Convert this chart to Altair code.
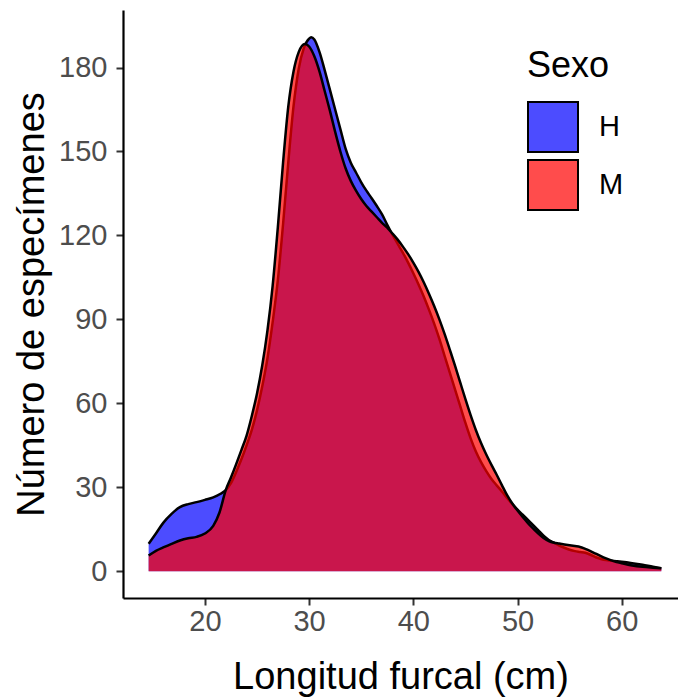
import altair as alt
import pandas as pd

# Longitud furcal (cm) and counts, Hembras (H)
h_x = [14.6, 15.3, 16.0, 16.8, 17.6, 18.4, 19.2, 20.0, 20.8, 21.5, 22.0, 22.5, 23.0, 23.5,
       24.0, 24.5, 25.0, 25.5, 26.0, 26.5, 27.0, 27.5, 28.0, 28.5, 29.0, 29.5, 30.0, 30.2,
       30.5, 31.0, 31.5, 32.0, 32.5, 33.0, 33.5, 34.0, 34.5, 35.0, 35.5, 36.0, 36.5, 37.0,
       37.5, 38.0, 38.5, 39.0, 39.5, 40.0, 40.5, 41.0, 41.5, 42.0, 42.5, 43.0, 43.5, 44.0,
       44.5, 45.0, 45.5, 46.0, 46.5, 47.0, 47.5, 48.0, 48.5, 49.0, 49.5, 50.0, 50.5, 51.0,
       51.5, 52.0, 52.5, 53.0, 53.5, 54.0, 54.5, 55.0, 55.5, 56.0, 56.5, 57.0, 57.5, 58.0,
       58.5, 59.0, 59.5, 60.0, 61.0, 62.0, 63.0, 63.8]
h_y = [9.8, 13.5, 17.3, 20.5, 22.9, 24.0, 24.7, 25.5, 26.4, 27.7, 29.0, 31.5, 35.5, 40.0,
       45.0, 50.5, 57.5, 66.0, 76.0, 89.0, 104.0, 124.0, 146.0, 166.0, 179.5, 187.0, 190.3, 190.8,
       190.0, 185.5, 179.0, 172.0, 165.0, 158.0, 151.0, 146.0, 142.5, 139.0, 136.0, 133.3, 130.5, 127.5,
       123.8, 120.3, 117.0, 113.8, 110.3, 106.5, 102.5, 98.2, 93.5, 88.5, 83.0, 77.0, 71.0, 65.0,
       59.0, 53.0, 47.5, 42.8, 39.0, 35.8, 33.0, 30.7, 28.5, 26.2, 24.0, 22.0, 20.2, 18.4,
       16.5, 14.6, 12.7, 11.2, 10.2, 9.2, 8.4, 7.7, 7.2, 6.9, 6.6, 5.9, 5.0, 4.4,
       4.0, 3.8, 3.6, 3.4, 2.9, 2.3, 1.6, 1.1]

# Machos (M)
m_x = [14.6, 15.3, 16.0, 16.8, 17.6, 18.4, 19.2, 20.0, 20.8, 21.4, 22.0, 22.5, 23.0, 23.5,
       24.0, 24.5, 25.0, 25.5, 26.0, 26.5, 27.0, 27.5, 28.0, 28.5, 29.0, 29.6, 30.0, 30.5,
       31.0, 31.5, 32.0, 32.5, 33.0, 33.5, 34.0, 34.5, 35.0, 35.5, 36.0, 36.5, 37.0, 37.5,
       37.8, 38.5, 39.0, 39.5, 40.0, 40.5, 41.0, 41.5, 42.0, 42.5, 43.0, 43.5, 44.0, 44.5,
       45.0, 45.5, 46.0, 46.5, 47.0, 47.5, 48.0, 48.5, 49.0, 49.5, 50.0, 50.5, 51.0, 51.5,
       52.0, 52.5, 53.0, 53.5, 54.0, 54.5, 55.0, 55.5, 56.0, 56.5, 57.0, 57.5, 58.0, 58.5,
       59.0, 59.5, 60.0, 61.0, 62.0, 63.0, 63.8]
m_y = [5.6, 7.3, 8.5, 9.8, 11.0, 11.8, 12.3, 13.5, 16.2, 21.0, 29.0, 33.5, 38.3, 43.3,
       48.5, 55.5, 63.5, 73.5, 86.0, 102.0, 123.0, 146.0, 166.0, 178.5, 185.5, 188.4, 187.5, 184.0,
       178.5, 171.5, 164.5, 157.0, 150.0, 144.0, 139.5, 136.0, 133.0, 130.5, 128.5, 126.5, 124.5, 122.8,
       121.5, 118.5, 116.0, 113.3, 110.3, 107.0, 103.3, 99.2, 94.8, 90.0, 84.8, 79.2, 73.5, 67.5,
       61.5, 55.8, 50.5, 45.8, 41.7, 38.0, 34.5, 30.8, 27.2, 24.2, 21.7, 19.4, 17.2, 15.3,
       13.5, 11.9, 10.8, 10.2, 9.9, 9.6, 9.3, 9.0, 8.7, 8.0, 7.2, 6.3, 5.4, 4.6,
       3.9, 3.3, 2.9, 2.1, 1.6, 1.3, 1.1]

sexes = ["H", "M"]
fill_colors = ["rgba(0,0,255,0.7)", "rgba(255,0,0,0.7)"]
x_ticks = [20, 30, 40, 50, 60]
y_ticks = [0, 30, 60, 90, 120, 150, 180]

df = pd.concat([
    pd.DataFrame({"lf": h_x, "n": h_y, "Sexo": "H"}),
    pd.DataFrame({"lf": m_x, "n": m_y, "Sexo": "M"}),
], ignore_index=True)

FONT = "Liberation Sans"

x_enc = alt.X("lf:Q", scale=alt.Scale(domain=[12.14, 65.4], nice=False, zero=False),
              axis=alt.Axis(values=x_ticks, title="Longitud furcal (cm)", titlePadding=22))
y_enc = alt.Y("n:Q", scale=alt.Scale(domain=[-9.55, 200.55], nice=False, zero=False),
              axis=alt.Axis(values=y_ticks, title="Número de especímenes", titlePadding=7))
color_enc = alt.Color("Sexo:N", scale=alt.Scale(domain=sexes, range=fill_colors),
                      legend=alt.Legend(title="Sexo", orient="none", legendX=404, legendY=39,
                                        symbolType="square", symbolSize=2500,
                                        symbolStrokeColor="black", symbolStrokeWidth=2,
                                        titleFontSize=36, titleFont=FONT, titleFontWeight="normal",
                                        titleColor="black", titlePadding=16,
                                        labelFontSize=29, labelFont=FONT, labelColor="black",
                                        labelOffset=20, rowPadding=0))

layers = []
for s in sexes:
    base = alt.Chart(df).transform_filter(alt.datum.Sexo == s)
    area = base.mark_area(interpolate="monotone").encode(
        x=x_enc, y=y_enc, y2=alt.datum(0), color=color_enc)
    line = base.mark_line(interpolate="monotone", color="black", strokeWidth=2.5).encode(
        x=x_enc, y=y_enc)
    layers += [area, line]

chart = alt.layer(*layers).properties(
    width=555, height=588,
    autosize=alt.AutoSizeParams(type="none"),
    padding={"left": 123, "top": 10, "right": 0, "bottom": 102},
).configure_view(stroke=None).configure_axis(
    grid=False, domainColor="black", domainWidth=2.2, tickColor="#333333", tickWidth=2,
    tickSize=7, labelFont=FONT, labelFontSize=29, labelColor="#4D4D4D", labelPadding=2,
    titleFont=FONT, titleFontSize=38, titleFontWeight="normal", titleColor="black"
).configure_axisY(labelPadding=9)

chart.save("out.html", embed_options={"renderer": "svg", "actions": False})
